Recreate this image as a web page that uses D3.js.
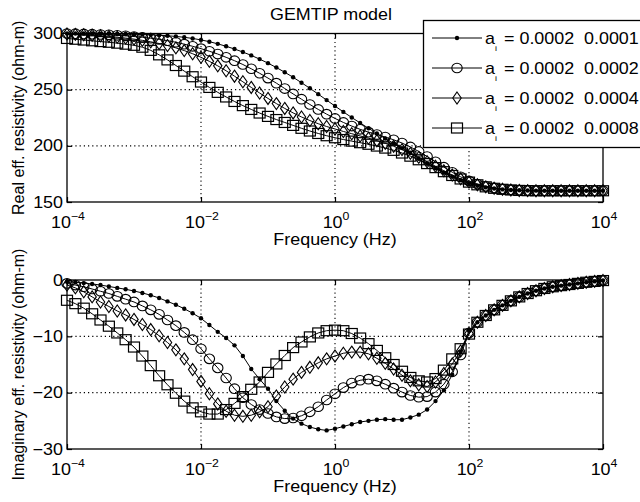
<!DOCTYPE html>
<html>
<head>
<meta charset="utf-8">
<script src="https://cdn.jsdelivr.net/npm/d3@7"></script>
<style>
  body { margin: 0; background: #fff; }
  svg { display: block; font-family: "Liberation Sans", Arial, sans-serif; }
</style>
</head>
<body>
<svg id="chart" width="640" height="502"></svg>
<script>
// log10 of frequency (Hz), 8 samples per decade
var logFreq = [-4, -3.875, -3.75, -3.625, -3.5, -3.375, -3.25, -3.125, -3, -2.875, -2.75, -2.625, -2.5, -2.375, -2.25, -2.125,
  -2, -1.875, -1.75, -1.625, -1.5, -1.375, -1.25, -1.125, -1, -0.875, -0.75, -0.625, -0.5, -0.375, -0.25, -0.125,
  0, 0.125, 0.25, 0.375, 0.5, 0.625, 0.75, 0.875, 1, 1.125, 1.25, 1.375, 1.5, 1.625, 1.75, 1.875,
  2, 2.125, 2.25, 2.375, 2.5, 2.625, 2.75, 2.875, 3, 3.125, 3.25, 3.375, 3.5, 3.625, 3.75, 3.875, 4];

var seriesNames = ["0.0001", "0.0002", "0.0004", "0.0008"];
var a1 = "0.0002";

var real1 = [300, 300, 300, 300, 299.8, 299.7, 299.6, 299.5, 299.3, 299.1, 298.8, 298.5, 298, 297.4, 296.6, 295.6,
  294.3, 292.7, 290.8, 288.6, 286.2, 283.5, 280.5, 277.2, 273.6, 269.7, 265.5, 261, 256.2, 251.2, 246, 240.7,
  235.4, 230.2, 225.2, 220.4, 215.6, 211, 206.5, 202.2, 198, 193.5, 188.5, 184, 180, 176, 172.5, 169.5,
  166.5, 164.5, 163, 162, 161.2, 160.7, 160.4, 160.2, 160.1, 160, 160, 160, 160, 160, 160, 160, 160];
var real2 = [300, 299.8, 299.6, 299.4, 299.1, 298.8, 298.4, 297.9, 297.3, 296.6, 295.8, 294.8, 293.6, 292.2, 290.5, 288.6,
  286.5, 284.2, 281.7, 278.8, 275.8, 272.4, 268.6, 264.6, 260.3, 255.8, 251, 246.2, 241.5, 236.8, 232.4, 228.2,
  224.4, 220.8, 217.6, 214.7, 212.2, 210, 207.8, 205.4, 202.5, 199, 195, 190.5, 185.8, 181, 176.5, 172.4,
  168.8, 166, 164, 162.5, 161.5, 160.8, 160.4, 160.2, 160.1, 160, 160, 160, 160, 160, 160, 160, 160];
var real3 = [299.5, 299.2, 298.9, 298.5, 298, 297.4, 296.7, 295.9, 295, 293.9, 292.6, 291.1, 289.3, 287.2, 284.8, 282,
  278.8, 275.2, 271.2, 266.8, 262, 257, 252, 247, 242.2, 237.6, 233.3, 229.3, 225.7, 222.5, 219.7, 217.2,
  215, 212.8, 210.8, 208.8, 206.8, 204.6, 202.2, 199.6, 196.6, 193.3, 189.7, 185.8, 181.8, 177.8, 174, 170.6,
  167.7, 165.3, 163.5, 162.2, 161.3, 160.7, 160.3, 160.1, 160, 160, 160, 160, 160, 160, 160, 160, 160];
var real4 = [295.6, 294.9, 294.2, 293.5, 292.8, 292.2, 291.4, 290.5, 289.5, 287.8, 285, 281, 276.5, 271.5, 266.5, 261.5,
  256.8, 252, 247.6, 243.5, 239.5, 235.8, 232.4, 229.2, 226.2, 223.4, 220.8, 218.2, 215.6, 213.2, 211, 209,
  207.2, 205.6, 204.2, 202.8, 201.4, 199.8, 198, 196, 193.6, 190.8, 187.6, 184.2, 180.6, 177, 173.6, 170.5,
  167.7, 165.3, 163.5, 162.2, 161.3, 160.7, 160.3, 160.1, 160, 160, 160, 160, 160, 160, 160, 160, 160];

var imag1 = [-0.3, -0.4, -0.55, -0.7, -0.9, -1.15, -1.4, -1.65, -1.95, -2.3, -2.7, -3.2, -3.8, -4.4, -5.1, -5.9,
  -6.8, -8.0, -9.2, -10.3, -11.6, -13.5, -15.8, -17.6, -19.3, -21.5, -23.2, -24.6, -25.5, -26.1, -26.5, -26.7,
  -26.4, -26.0, -25.6, -25.2, -25.0, -24.8, -24.7, -24.8, -24.8, -24.4, -23.9, -23.0, -21.5, -19.6, -16.8, -12.8,
  -9.0, -7.5, -6.3, -5.3, -4.5, -3.7, -3.0, -2.4, -1.9, -1.5, -1.2, -1.0, -0.8, -0.6, -0.4, -0.25, -0.1];
var imag2 = [-0.6, -0.9, -1.2, -1.6, -2.0, -2.4, -2.9, -3.4, -3.9, -4.6, -5.3, -6.1, -7.1, -8.1, -9.3, -10.6,
  -12.2, -14.0, -15.6, -17.4, -19.3, -20.9, -22.1, -23.0, -23.7, -24.3, -24.6, -24.5, -24.1, -23.4, -22.5, -21.3,
  -20.2, -19.1, -18.3, -17.8, -17.6, -17.9, -18.5, -19.2, -19.9, -20.5, -20.8, -20.7, -19.9, -18.5, -16.3, -13.3,
  -9.4, -7.5, -6.3, -5.3, -4.5, -3.7, -3.0, -2.4, -1.9, -1.5, -1.2, -1.0, -0.8, -0.6, -0.4, -0.25, -0.1];
var imag3 = [-0.9, -1.4, -2.1, -3.0, -3.9, -4.7, -5.5, -6.2, -7.0, -7.9, -8.8, -9.9, -11.1, -12.4, -14.0, -15.9,
  -18.0, -20.2, -22.0, -23.3, -24.0, -24.2, -24.0, -23.4, -22.5, -20.6, -19.0, -17.6, -16.4, -15.5, -14.7, -14.0,
  -13.5, -13.0, -12.8, -12.8, -13.1, -13.9, -14.8, -15.8, -16.9, -17.9, -18.6, -18.9, -18.1, -16.6, -14.9, -12.6,
  -9.5, -7.5, -6.3, -5.3, -4.5, -3.7, -3.0, -2.4, -1.9, -1.5, -1.2, -1.0, -0.8, -0.6, -0.4, -0.25, -0.1];
var imag4 = [-3.6, -4.2, -5.0, -6.0, -7.1, -8.2, -9.4, -10.6, -11.9, -13.5, -15.2, -17.0, -18.6, -20.1, -21.5, -22.7,
  -23.4, -23.8, -23.8, -23.0, -21.9, -20.7, -19.4, -18.1, -16.4, -14.9, -13.4, -12.0, -11.0, -10.1, -9.4, -9.0,
  -8.9, -9.0, -9.5, -10.3, -11.3, -12.5, -13.8, -15.0, -16.2, -17.3, -17.9, -18.1, -17.5, -16.0, -14.0, -12.2,
  -9.6, -7.5, -6.3, -5.3, -4.5, -3.7, -3.0, -2.4, -1.9, -1.5, -1.2, -1.0, -0.8, -0.6, -0.4, -0.25, -0.1];

var xTicks = [1e-4, 1e-2, 1, 1e2, 1e4];
var xTickExp = ["\u22124", "\u22122", "0", "2", "4"];
var realTicks = [150, 200, 250, 300];
var imagTicks = [-30, -20, -10, 0];

var markers = ["dot", "circle", "diamond", "square"];
var realSeries = [real1, real2, real3, real4];
var imagSeries = [imag1, imag2, imag3, imag4];

var svg = d3.select("#chart");
var SX = 1.12; // horizontal text stretch seen in the picture

var x = d3.scaleLog().domain([1e-4, 1e4]).range([67, 603]);
var freq = logFreq.map(function(e) { return Math.pow(10, e); });

function txt(g, px, py, str, size, anchor, rot) {
  var t = g.append("text")
    .attr("transform", rot ? "translate(" + px + "," + py + ") rotate(-90)"
                           : "translate(" + px + "," + py + ") scale(" + SX + ",1)")
    .attr("font-size", size)
    .attr("text-anchor", anchor || "start")
    .attr("fill", "#000");
  if (str !== null) t.text(str);
  return t;
}

function marker(g, type, cx, cy) {
  if (type === "dot") {
    g.append("circle").attr("cx", cx).attr("cy", cy).attr("r", 2.2).attr("fill", "#000");
  } else if (type === "circle") {
    g.append("ellipse").attr("cx", cx).attr("cy", cy).attr("rx", 5.2).attr("ry", 4.8)
      .attr("fill", "none").attr("stroke", "#000").attr("stroke-width", 1.1);
  } else if (type === "diamond") {
    g.append("path").attr("d", "M" + cx + "," + (cy - 6) + "L" + (cx + 4.2) + "," + cy + "L" + cx + "," + (cy + 6) + "L" + (cx - 4.2) + "," + cy + "Z")
      .attr("fill", "none").attr("stroke", "#000").attr("stroke-width", 1.1);
  } else {
    g.append("rect").attr("x", cx - 5.5).attr("y", cy - 5).attr("width", 11).attr("height", 10)
      .attr("fill", "none").attr("stroke", "#000").attr("stroke-width", 1.2);
  }
}

function panel(top, bottom, domain, yTicks, seriesList, ylabel) {
  var y = d3.scaleLinear().domain(domain).range([bottom, top]);
  var g = svg.append("g");

  // dotted grid
  g.selectAll(".gx").data(xTicks.slice(1, -1)).enter().append("line")
    .attr("x1", function(d) { return x(d); }).attr("x2", function(d) { return x(d); })
    .attr("y1", top).attr("y2", bottom)
    .attr("stroke", "#000").attr("stroke-width", 1.1).attr("stroke-dasharray", "1.2,3");
  g.selectAll(".gy").data(yTicks.slice(1, -1)).enter().append("line")
    .attr("x1", 67).attr("x2", 603)
    .attr("y1", function(d) { return y(d); }).attr("y2", function(d) { return y(d); })
    .attr("stroke", "#000").attr("stroke-width", 1.1).attr("stroke-dasharray", "1.2,3");

  // inward ticks on all four sides
  var axB = g.append("g").attr("transform", "translate(0," + bottom + ")")
    .call(d3.axisBottom(x).tickValues(xTicks).tickSize(-5).tickFormat(""));
  var axT = g.append("g").attr("transform", "translate(0," + top + ")")
    .call(d3.axisTop(x).tickValues(xTicks).tickSize(-5).tickFormat(""));
  var axL = g.append("g").attr("transform", "translate(67,0)")
    .call(d3.axisLeft(y).tickValues(yTicks).tickSize(-5).tickFormat(""));
  var axR = g.append("g").attr("transform", "translate(603,0)")
    .call(d3.axisRight(y).tickValues(yTicks).tickSize(-5).tickFormat(""));
  [axB, axT, axL, axR].forEach(function(a) {
    a.select(".domain").remove();
    a.selectAll("line").attr("stroke", "#000").attr("stroke-width", 1.2);
  });

  // series
  var line = d3.line().x(function(d) { return x(d[0]); }).y(function(d) { return y(d[1]); });
  seriesList.forEach(function(vals, si) {
    var pts = freq.map(function(f, i) { return [f, vals[i]]; });
    var sg = g.append("g");
    sg.append("path").datum(pts).attr("d", line)
      .attr("fill", "none").attr("stroke", "#000").attr("stroke-width", 1);
    pts.forEach(function(p) { marker(sg, markers[si], x(p[0]), y(p[1])); });
  });

  // box
  g.append("rect").attr("x", 67).attr("y", top).attr("width", 536).attr("height", bottom - top)
    .attr("fill", "none").attr("stroke", "#000").attr("stroke-width", 1.3);

  // tick labels
  yTicks.forEach(function(v) {
    txt(g, 63, y(v) + 5.5, String(v).replace("-", "\u2212"), 16, "end");
  });
  xTicks.forEach(function(v, i) {
    var t = txt(g, x(v) + 1, bottom + 26, null, 16, "middle");
    t.append("tspan").text("10");
    t.append("tspan").attr("dy", -8).attr("font-size", 11).text(xTickExp[i]);
  });
  txt(g, 335, bottom + 43, "Frequency (Hz)", 16, "middle");
  txt(g, 24, (top + bottom) / 2, ylabel, 16, "middle", true);
}

panel(33.5, 202, [150, 300], realTicks, realSeries, "Real eff. resistivity (ohm-m)");
panel(280, 449, [-30, 0], imagTicks, imagSeries, "Imaginary eff. resistivity (ohm-m)");

txt(svg, 331, 20, "GEMTIP model", 16, "middle");

// legend
var lg = svg.append("g");
lg.append("rect").attr("x", 423.5).attr("y", 20.5).attr("width", 230).attr("height", 127)
  .attr("fill", "#fff").attr("stroke", "#000").attr("stroke-width", 1.3);
seriesNames.forEach(function(name, i) {
  var ly = 38 + i * 30;
  lg.append("line").attr("x1", 432).attr("x2", 482).attr("y1", ly).attr("y2", ly)
    .attr("stroke", "#000").attr("stroke-width", 1);
  marker(lg, markers[i], 457, ly);
  txt(lg, 485, ly + 5.5, "a", 16);
  txt(lg, 495, ly + 13, "i", 8);
  txt(lg, 504, ly + 5.5, "= " + a1, 16);
  txt(lg, 584, ly + 5.5, name, 16);
});
</script>
</body>
</html>
